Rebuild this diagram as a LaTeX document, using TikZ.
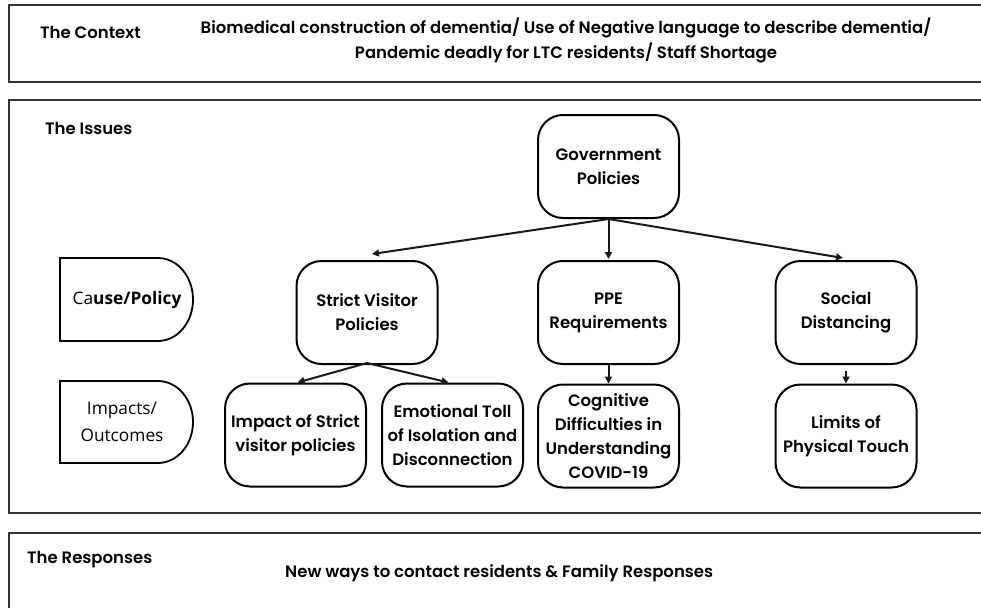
\documentclass[tikz,border=0pt]{standalone}
\usepackage{fontspec}
\setmainfont{Poppins}[BoldFont={Poppins SemiBold}]
\newfontfamily\osf{Open Sans}
\usetikzlibrary{arrows.meta}
\definecolor{frame}{HTML}{333333}
\tikzset{
  panel/.style={draw=frame,line width=2.4pt},
  box/.style={draw=black,line width=2pt,rounded corners=25pt,minimum width=141pt,minimum height=103pt,inner sep=0pt,align=center,font=\fontsize{16.5}{24}\selectfont\bfseries},
  dshape/.style={draw=black,line width=1.8pt},
  hdr/.style={anchor=west,inner sep=0pt,font=\fontsize{16.5}{24}\selectfont\bfseries},
  body/.style={inner sep=0pt,align=center,font=\fontsize{16.5}{25}\selectfont\bfseries},
  lbl/.style={inner sep=0pt,align=center,font=\osf\fontsize{17.3}{27}\selectfont},
  arr/.style={draw=black!90,line width=2pt,-{Triangle[length=7pt,width=7pt]}}
}
\begin{document}
\begin{tikzpicture}[x=1pt,y=1pt]
\useasboundingbox (0,0) rectangle (981,-607);
% panels
\draw[panel] (995,-5) -- (9,-5) -- (9,-82) -- (995,-82);
\draw[panel] (995,-100) -- (9,-100) -- (9,-513) -- (995,-513);
\draw[panel] (995,-533) -- (9,-533) -- (9,-620);
% context
\node[hdr] (ctxh) at (40,-32) {The Context};
\node[body] (ctx) at (566,-40) {Biomedical construction of dementia/ Use of Negative language to describe dementia/\\Pandemic deadly for LTC residents/ Staff Shortage};
\node[hdr] (issh) at (45,-128) {The Issues};
\node[hdr] (resh) at (27,-560) {The Responses};
\node[hdr] (res) at (285,-573) {New ways to contact residents \& Family Responses};
% D shapes
\draw[dshape] (60,-258) -- (158,-258) arc[start angle=90,end angle=-90,x radius=35,y radius=41.5] -- (60,-341) -- cycle;
\node[lbl] (cause) at (127,-300) {Ca\textbf{use/Policy}};
\draw[dshape] (60,-381) -- (158,-381) arc[start angle=90,end angle=-90,x radius=35,y radius=41] -- (60,-463) -- cycle;
\node[lbl] (impl) at (122,-422) {Impacts/\\Outcomes};
% nodes
\node[box] (gov) at (608.5,-166.5) {Government\\Policies};
\node[box] (svp) at (367,-312.5) {Strict Visitor\\Policies};
\node[box] (ppe) at (608.5,-312.5) {PPE\\Requirements};
\node[box] (sd) at (846,-312.5) {Social\\Distancing};
\node[box] (imp) at (295.5,-435) {Impact of Strict\\visitor policies};
\node[box] (emo) at (452.5,-435) {Emotional Toll\\of Isolation and\\Disconnection};
\node[box] (cog) at (608.5,-436) {Cognitive\\Difficulties in\\Understanding\\COVID-19};
\node[box] (lim) at (846,-436) {Limits of\\Physical Touch};
% arrows
\draw[arr] (gov.south) -- ([xshift=5pt,yshift=6pt]svp.north);
\draw[arr] (gov.south) -- ([yshift=1pt]ppe.north);
\draw[arr] (gov.south) -- ([xshift=-3pt,yshift=2pt]sd.north);
\draw[arr] ([yshift=2pt]svp.south) -- ([xshift=2pt]imp.north);
\draw[arr] ([yshift=2pt]svp.south) -- ([xshift=-4pt]emo.north);
\draw[arr] (ppe.south) -- (cog.north);
\draw[arr] ([yshift=-6pt]sd.south) -- (lim.north);
\end{tikzpicture}
\end{document}
